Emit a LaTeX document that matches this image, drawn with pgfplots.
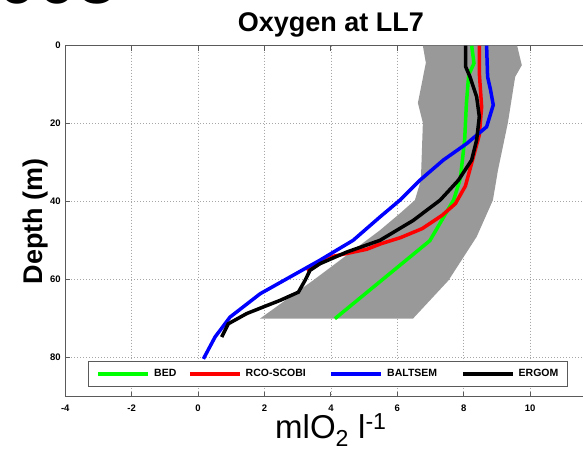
\documentclass[border=0pt]{standalone}
\usepackage{fontspec}
\setmainfont{Liberation Sans}
\usepackage{pgfplots}
\pgfplotsset{compat=1.18}
\definecolor{band}{RGB}{153,153,153}
\definecolor{axgray}{RGB}{90,90,90}
\begin{document}
\begin{tikzpicture}
\begin{axis}[
 at={(0,0)}, anchor=south west, name=ax,
 scale only axis, width=531.2pt, height=351pt,
 xmin=-4, xmax=12, ymin=0, ymax=90, y dir=reverse,
 xtick={-4,-2,...,10}, ytick={0,20,40,60,80},
 grid=major, grid style={dash pattern=on 1pt off 2pt, black!35, line width=0.7pt},
 tick align=inside, major tick length=5pt, tick style={axgray, line width=1pt},
 axis line style={axgray, line width=1.2pt},
 /pgf/number format/assume math mode=true,
 ticklabel style={font=\fontsize{9.5}{10}\selectfont\bfseries},
 xticklabel style={yshift=-5pt},
 yticklabel style={xshift=-1pt},
 title={Oxygen at LL7},
 title style={at={(axis description cs:0.5,1)}, anchor=base, yshift=8pt, font=\fontsize{27}{30}\selectfont\bfseries},
 xlabel={mlO\textsubscript{2} l\textsuperscript{-1}},
 every axis x label/.style={at={(axis description cs:0.5,0)}, anchor=base, yshift=-42pt, inner sep=0pt, font=\fontsize{33}{35}\selectfont},
 ylabel={Depth (m)},
 every axis y label/.style={at={(axis description cs:0,0.5)}, anchor=base, xshift=-23pt, rotate=90, font=\fontsize{27}{30}\selectfont\bfseries},
 legend columns=4,
 legend style={at={(axis description cs:0.0433,0.0285)}, anchor=south west, draw=axgray, line width=0.8pt, fill=white, inner xsep=8pt, inner ysep=8pt, font=\fontsize{10.5}{12}\selectfont\bfseries, column sep=0pt, nodes={inner sep=0pt}, /tikz/every odd column/.append style={column sep=4pt}},
 legend image code/.code={\draw[#1] (0pt,0pt) -- (50pt,0pt);},
]
\addplot[fill=band, draw=none, forget plot] coordinates {
(6.77,0) (6.86,4.4) (6.62,14.7) (6.77,19.8) (6.71,34.5) (6.53,39.6) (6.08,43) (5.48,47.3) (3.46,60.2) (1.86,70)
(6.47,70) (7.54,60.2) (8.39,49) (8.88,39.6) (9.03,32) (9.33,19.8) (9.55,8) (9.75,5) (9.61,0)
} -- cycle;
\addplot[color={rgb,255:red,0;green,255;blue,0}, line width=3.5pt] coordinates {
(8.24,0) (8.31,4.5) (8.15,7.5) (8.08,15) (8.03,24) (7.90,34) (7.70,39.5) (6.98,50) (4.12,70)
};
\addlegendentry{\makebox[34pt][l]{BED}}
\addplot[color=red, line width=3.5pt] coordinates {
(8.47,0) (8.47,7) (8.54,15.7) (8.47,22.9) (8.34,27) (8.18,32) (8.05,36) (7.75,40.5) (7.35,43.5) (6.75,46.9) (6.1,49.2) (5.5,50.8) (5.08,52.2) (4.07,54) (3.27,57.6)
};
\addlegendentry{\makebox[84pt][l]{RCO-SCOBI}}
\addplot[color=blue, line width=3.5pt] coordinates {
(8.69,0) (8.72,8) (8.81,11.4) (8.89,15.2) (8.69,20.8) (8.09,25.1) (7.39,29.3) (6.68,34.5) (6.08,39.6) (5.48,43.9) (4.67,49.9) (3.67,55) (2.77,59.3) (1.87,63.6) (0.96,69.6) (0.51,74.7) (0.16,80.3)
};
\addlegendentry{\makebox[74pt][l]{BALTSEM}}
\addplot[color=black, line width=3.5pt] coordinates {
(8.06,0) (8.06,5.4) (8.19,8) (8.39,13.1) (8.47,18.2) (8.39,24.2) (8.24,29.3) (7.84,34.5) (7.29,39.6) (6.48,44.8) (5.48,49.9) (4.48,52.9) (3.67,55.9) (3.37,57.6) (3.22,60.2) (3.02,63.2) (2.47,65.3) (1.96,67) (1.46,68.7) (0.91,71.3) (0.71,74.7)
};
\addlegendentry{\makebox[41pt][l]{ERGOM}}
\end{axis}
\node[anchor=base west, inner sep=0pt, font=\fontsize{72}{72}\selectfont\bfseries] at (-68pt,393pt) {005};
\pgfresetboundingbox
\path[use as bounding box] (-65.3pt,-60.3pt) rectangle (517.7pt,396.7pt);
\end{tikzpicture}
\end{document}
